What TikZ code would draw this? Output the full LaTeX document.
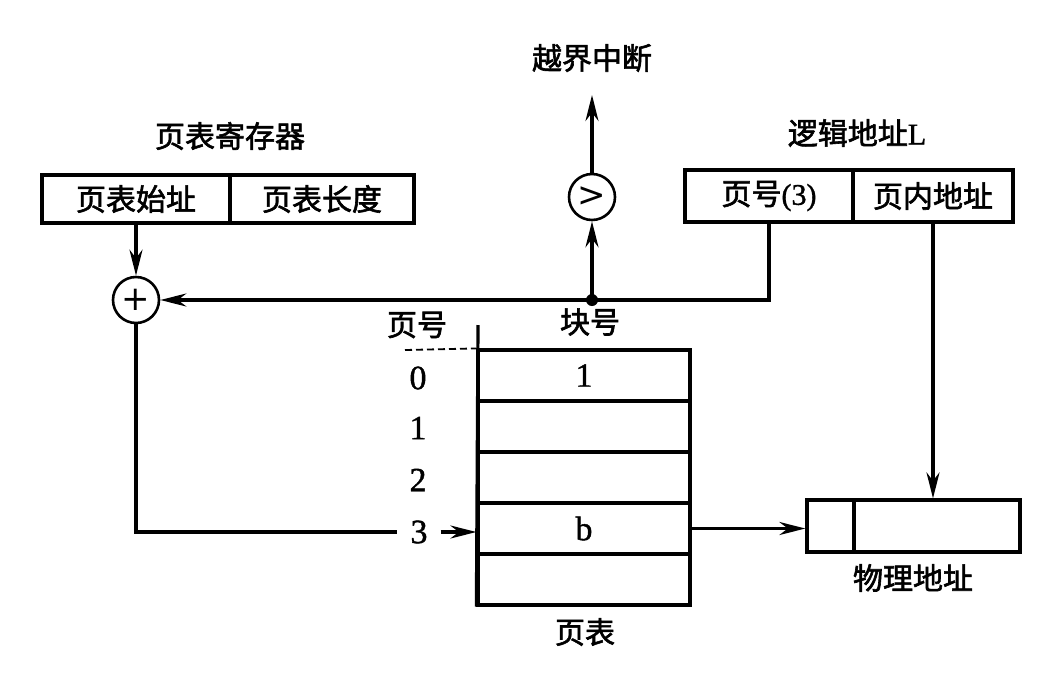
\documentclass[tikz,border=0pt]{standalone}
\usepackage{fontspec}
\newfontfamily\cjk{Noto Sans CJK SC}[FakeBold=2]
\newfontfamily\serifd{Liberation Serif}[FakeBold=1.2]
\newfontfamily\symf{DejaVu Sans}
\usetikzlibrary{arrows.meta}
\tikzset{
  lbl/.style={font=\cjk\fontsize{30}{30}\selectfont, inner sep=0pt},
  num/.style={font=\serifd\fontsize{34}{34}\selectfont, inner sep=0pt},
  ln/.style={line width=3.2pt},
  arr/.style={ln, -{Stealth[length=26pt,width=13pt]}},
  cell/.style={draw, ln, rectangle, inner sep=0pt, font=\cjk\fontsize{30}{30}\selectfont},
  opc/.style={draw, line width=2.6pt, circle, minimum size=46pt, inner sep=0pt, font=\symf\fontsize{34}{34}\selectfont},
}
\begin{document}
\begin{tikzpicture}[x=1pt,y=-1pt]
\useasboundingbox (0,0) rectangle (1052,673);
% page table register
\node[lbl] (regl) at (230,136) {页表寄存器};
\node[cell, minimum width=188pt, minimum height=48pt] (rs1) at (136,199) {页表始址};
\node[cell, minimum width=184pt, minimum height=48pt] (rs2) at (322,199) {页表长度};
% logical address
\node[lbl] (lal) at (857,133) {逻辑地址\serifd L};
\node[cell, minimum width=168pt, minimum height=52pt] (la1) at (769,196) {页号\serifd(3)};
\node[cell, minimum width=160pt, minimum height=52pt] (la2) at (933,196) {页内地址};
% comparator and adder
\node[opc] (cmp) at (592,197) {>};
\node[lbl] (ovf) at (592,58) {越界中断};
\coordinate (top) at (592,95);
\node[opc] (plus) at (136,300) {+};
% page table
\node[cell, font=\serifd\fontsize{34}{34}\selectfont, minimum width=212pt, minimum height=51pt] (r0) at (584,375.5) {1};
\node[cell, minimum width=212pt, minimum height=51pt] (r1) at (584,426.5) {};
\node[cell, minimum width=212pt, minimum height=51pt] (r2) at (584,477.5) {};
\node[cell, font=\serifd\fontsize{34}{34}\selectfont, minimum width=212pt, minimum height=51pt] (r3) at (584,528.5) {b};
\node[cell, minimum width=212pt, minimum height=51pt] (r4) at (584,579.5) {};
\node[lbl] (pgno) at (417,325) {页号};
\node[lbl] (blkno) at (590,322) {块号};
\node[lbl] (pt) at (585,632) {页表};
\node[num] (n0) at (418,378) {0};
\node[num] (n1) at (418,428) {1};
\node[num] (n2) at (418,480) {2};
\node[num, inner xsep=13pt] (n3) at (419,532) {3};
\coordinate (vtop) at (478,325);
\coordinate (dstart) at (405,350);
% physical address
\node[cell, minimum width=47pt, minimum height=52pt] (pa1) at (830.5,526) {};
\node[cell, minimum width=166pt, minimum height=52pt] (pa2) at (937,526) {};
\node[lbl] (pal) at (913,578) {物理地址};
% connectors
\draw[ln] (vtop) -- (r4.south west);
\draw[line width=1.8pt, dash pattern=on 7pt off 4pt] (dstart) -- (r0.north west);
\draw[arr] (rs1.south) -- (plus.north);
\coordinate (dot) at (cmp.south |- plus.east);
\draw[arr] (la1.south) |- (plus.east);
\fill (dot) circle (6pt);
\draw[arr] (dot) -- (cmp.south);
\draw[arr] (cmp.north) -- (top);
\draw[ln] (plus.south) |- (n3.west);
\draw[arr] (n3.east) -- (r3.west |- n3.east);
\draw[arr] (r3.east) -- (pa1.west |- r3.east);
\draw[arr] (la2.south) -- (la2.south |- pa2.north);
\end{tikzpicture}
\end{document}
